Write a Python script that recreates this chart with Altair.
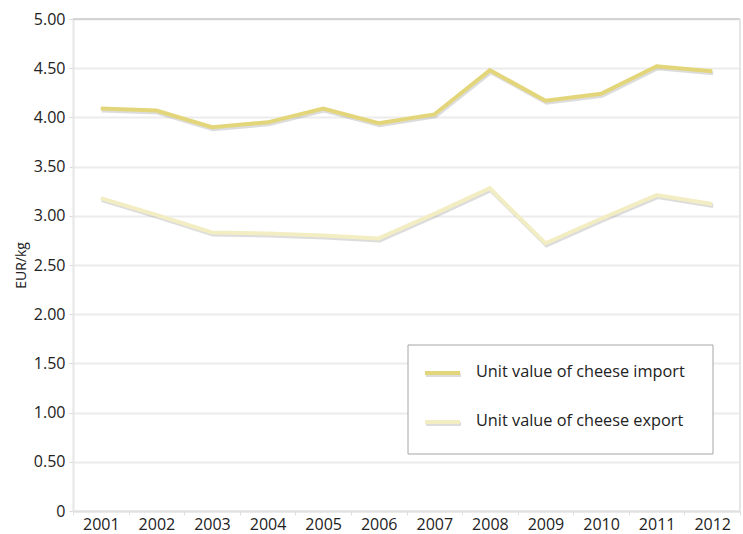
import altair as alt
import pandas as pd

years = [str(y) for y in range(2001, 2013)]
import_vals = [4.09, 4.07, 3.90, 3.95, 4.09, 3.94, 4.03, 4.48, 4.17, 4.24, 4.52, 4.47]
export_vals = [3.18, 3.01, 2.83, 2.82, 2.80, 2.77, 3.02, 3.28, 2.72, 2.97, 3.21, 3.12]
series = ["Unit value of cheese import", "Unit value of cheese export"]
colors = ["#E3D67A", "#F3EDC4"]

rows = []
for s, vals in zip(series, [import_vals, export_vals]):
    for y, v in zip(years, vals):
        rows.append({"year": y, "value": v, "series": s})
df = pd.DataFrame(rows)

FONT = "Open Sans"
W, H = 667, 492

x = alt.X("year:N", sort=years, title=None,
          scale=alt.Scale(paddingInner=0, paddingOuter=0),
          axis=alt.Axis(labelAngle=0, labelFont=FONT, labelFontSize=16, labelColor="#222222",
                        labelPadding=1, tickBand="extent", tickColor="#E0E0E0", tickSize=4,
                        domainColor="#E0E0E0", domainWidth=2, grid=False))
y = alt.Y("value:Q", title="EUR/kg",
          scale=alt.Scale(domain=[0, 5], nice=False),
          axis=alt.Axis(values=[i * 0.5 for i in range(11)],
                        labelExpr="datum.value == 0 ? '0' : format(datum.value, '.2f')",
                        labelFont=FONT, labelFontSize=16, labelColor="#222222", labelPadding=4,
                        tickColor="#D9D9D9", tickSize=4, domainColor="#E6E6E6", domainWidth=2,
                        gridColor="#ECECEC", gridWidth=2,
                        titleFont=FONT, titleFontSize=14, titleFontWeight="normal",
                        titleColor="#222222", titlePadding=5))
color = alt.Color("series:N", scale=alt.Scale(domain=series, range=colors), legend=None)

base = alt.Chart(df)
lines = base.mark_line(strokeWidth=4, strokeJoin="miter").encode(x=x, y=y, color=color)
shadow = base.mark_line(strokeWidth=4, color="#9A9A9A", opacity=0.35, xOffset=1, yOffset=2,
                        strokeJoin="miter").encode(x=x, y=y, detail="series:N")

topline = alt.Chart(pd.DataFrame({"value": [5.0]})).mark_rule(color="#D4D4D4", strokeWidth=2).encode(
    y="value:Q", x=alt.value(0), x2=alt.value(W))
rightline = alt.Chart(pd.DataFrame({"v": [0]})).mark_rule(color="#E6E6E6", strokeWidth=2).encode(
    x=alt.value(W), y=alt.value(0), y2=alt.value(H))

# legend (manual)
LX, LY = 335, 326
legbox = alt.Chart(pd.DataFrame({"a": [0]})).mark_rect(fill="white", stroke="#A6A6A6", strokeWidth=1).encode(
    x=alt.value(LX), x2=alt.value(LX + 305), y=alt.value(LY), y2=alt.value(LY + 109))
leg_layers = []
for i, (s, c) in enumerate(zip(series, colors)):
    yy = LY + 28 + 49 * i
    d = pd.DataFrame({"series": [s]})
    leg_layers.append(alt.Chart(d).mark_rule(strokeWidth=4, color="#9A9A9A", opacity=0.35).encode(
        x=alt.value(LX + 18), x2=alt.value(LX + 53), y=alt.value(yy + 2)))
    leg_layers.append(alt.Chart(d).mark_rule(strokeWidth=4, color=c).encode(
        x=alt.value(LX + 17), x2=alt.value(LX + 52), y=alt.value(yy)))
    leg_layers.append(alt.Chart(d).mark_text(align="left", baseline="middle", font=FONT, fontSize=16.3,
                                             color="#222222").encode(
        x=alt.value(LX + 68), y=alt.value(yy - 1), text="series:N"))

chart = alt.layer(lines.mark_line(opacity=0), topline, rightline, shadow, lines, legbox,
                  *leg_layers).properties(
    width=W, height=H,
    autosize=alt.AutoSizeParams(type="none"),
    padding={"left": 73, "top": 19, "right": 3, "bottom": 23},
).configure_view(stroke=None).configure(background="white")

chart.save("out.html", embed_options={"renderer": "svg", "actions": False})
